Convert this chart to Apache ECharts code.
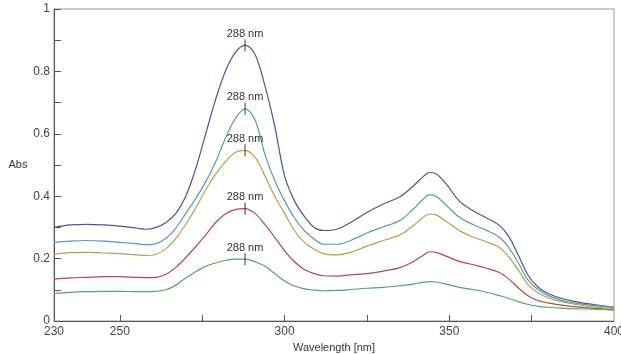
<!DOCTYPE html>
<html>
<head>
<meta charset="utf-8">
<script src="https://cdn.jsdelivr.net/npm/echarts@6/dist/echarts.min.js"></script>
<style>
  html, body { margin: 0; padding: 0; background: #fff; }
  #chart { width: 621px; height: 354px; }
</style>
</head>
<body>
<div id="chart"></div>
<script>
// wavelength grid (nm)
const wavelengths = [230,235,240,245,250,255,258,261,264,267,270,273,276,279,282,285,288,291,294,297,300,303,306,309,312,316,320,325,330,335,339,342,344,346,349,353,357,361,365,368,371,374,377,380,384,388,393,400];

// absorbance spectra, highest to lowest
const absBlue  = [0.300,0.308,0.310,0.308,0.304,0.298,0.294,0.300,0.316,0.345,0.400,0.487,0.598,0.708,0.800,0.860,0.884,0.855,0.755,0.625,0.465,0.385,0.335,0.300,0.290,0.295,0.316,0.348,0.375,0.398,0.432,0.462,0.476,0.472,0.440,0.385,0.355,0.332,0.308,0.272,0.210,0.145,0.108,0.088,0.073,0.063,0.054,0.044];
const absTeal  = [0.252,0.256,0.258,0.256,0.252,0.248,0.245,0.248,0.265,0.298,0.345,0.392,0.445,0.508,0.585,0.648,0.680,0.645,0.535,0.450,0.385,0.330,0.290,0.262,0.246,0.246,0.258,0.282,0.302,0.322,0.358,0.390,0.404,0.400,0.372,0.333,0.310,0.292,0.270,0.236,0.185,0.130,0.100,0.082,0.067,0.058,0.051,0.043];
const absOlive = [0.214,0.219,0.220,0.218,0.216,0.212,0.210,0.214,0.232,0.265,0.310,0.362,0.420,0.470,0.510,0.540,0.547,0.525,0.466,0.400,0.345,0.290,0.252,0.230,0.215,0.212,0.220,0.240,0.258,0.276,0.305,0.332,0.343,0.340,0.320,0.290,0.270,0.255,0.237,0.206,0.162,0.116,0.090,0.075,0.062,0.054,0.046,0.040];
const absRed   = [0.134,0.138,0.140,0.142,0.142,0.140,0.139,0.140,0.150,0.172,0.203,0.238,0.275,0.315,0.343,0.357,0.360,0.345,0.310,0.268,0.225,0.190,0.165,0.152,0.145,0.144,0.148,0.152,0.160,0.171,0.190,0.210,0.222,0.220,0.208,0.191,0.181,0.170,0.156,0.135,0.106,0.080,0.065,0.058,0.051,0.046,0.041,0.035];
const absGreen = [0.089,0.092,0.094,0.095,0.095,0.094,0.094,0.095,0.100,0.115,0.138,0.158,0.175,0.186,0.194,0.198,0.198,0.190,0.176,0.152,0.128,0.112,0.103,0.099,0.097,0.098,0.101,0.105,0.108,0.113,0.118,0.124,0.126,0.125,0.118,0.108,0.101,0.093,0.082,0.073,0.062,0.053,0.047,0.044,0.041,0.039,0.038,0.036];

const peakWavelength = 288;
const xLabelValues = [230, 250, 300, 350, 400];
const xTickValues = [250, 275, 300, 325, 350, 375];

const spectra = [
  { values: absBlue,  color: '#53509f' },
  { values: absTeal,  color: '#4f9fb0' },
  { values: absOlive, color: '#b3a348' },
  { values: absRed,   color: '#b8474a' },
  { values: absGreen, color: '#55a85b' },
];

const font = 'Liberation Sans, Arial, sans-serif';
const chart = echarts.init(document.getElementById('chart'));

const peakIdx = wavelengths.indexOf(peakWavelength);

const series = spectra.map(s => ({
  type: 'line',
  smooth: 0.35,
  symbol: 'none',
  silent: true,
  lineStyle: { color: s.color, width: 1.2 },
  data: wavelengths.map((w, i) => [w, s.values[i]]),
  markPoint: {
    silent: true,
    symbol: 'rect',
    symbolSize: [1, 12],
    itemStyle: { color: '#333' },
    label: {
      show: true,
      position: 'top',
      distance: 0,
      formatter: peakWavelength + ' nm',
      color: '#333',
      fontSize: 11,
      fontFamily: font,
    },
    data: [{ coord: [peakWavelength, s.values[peakIdx]] }],
  },
}));

chart.setOption({
  animation: false,
  grid: {
    left: 54, right: 7, top: 9, bottom: 33,
    outerBoundsMode: 'none',
    containLabel: false,
    show: true, borderColor: '#999', borderWidth: 1,
  },
  xAxis: {
    type: 'value',
    min: 230,
    max: 400,
    name: 'Wavelength [nm]',
    nameLocation: 'middle',
    nameGap: 19,
    nameTextStyle: { color: '#333', fontSize: 11, fontFamily: font },
    splitLine: { show: false },
    axisLine: { lineStyle: { color: '#555' } },
    axisTick: { inside: true, length: 6, customValues: xTickValues, lineStyle: { color: '#555' } },
    axisLabel: { customValues: xLabelValues, color: '#444', fontSize: 12, fontFamily: font, margin: 5, hideOverlap: false },
  },
  yAxis: {
    type: 'value',
    min: 0,
    max: 1,
    interval: 0.1,
    name: 'Abs',
    nameLocation: 'middle',
    nameRotate: 0,
    nameGap: 23,
    nameTextStyle: { color: '#333', fontSize: 11, fontFamily: font, padding: [22, 0, 0, 0] },
    splitLine: { show: false },
    axisLine: { lineStyle: { color: '#555' } },
    axisTick: { inside: true, length: 7, lineStyle: { color: '#555' } },
    axisLabel: {
      color: '#444', fontSize: 12, fontFamily: font, margin: 4,
      formatter: v => (Math.round(v * 10) % 2 === 0 ? String(+v.toFixed(1)) : ''),
    },
  },
  series: series,
});
</script>
</body>
</html>
